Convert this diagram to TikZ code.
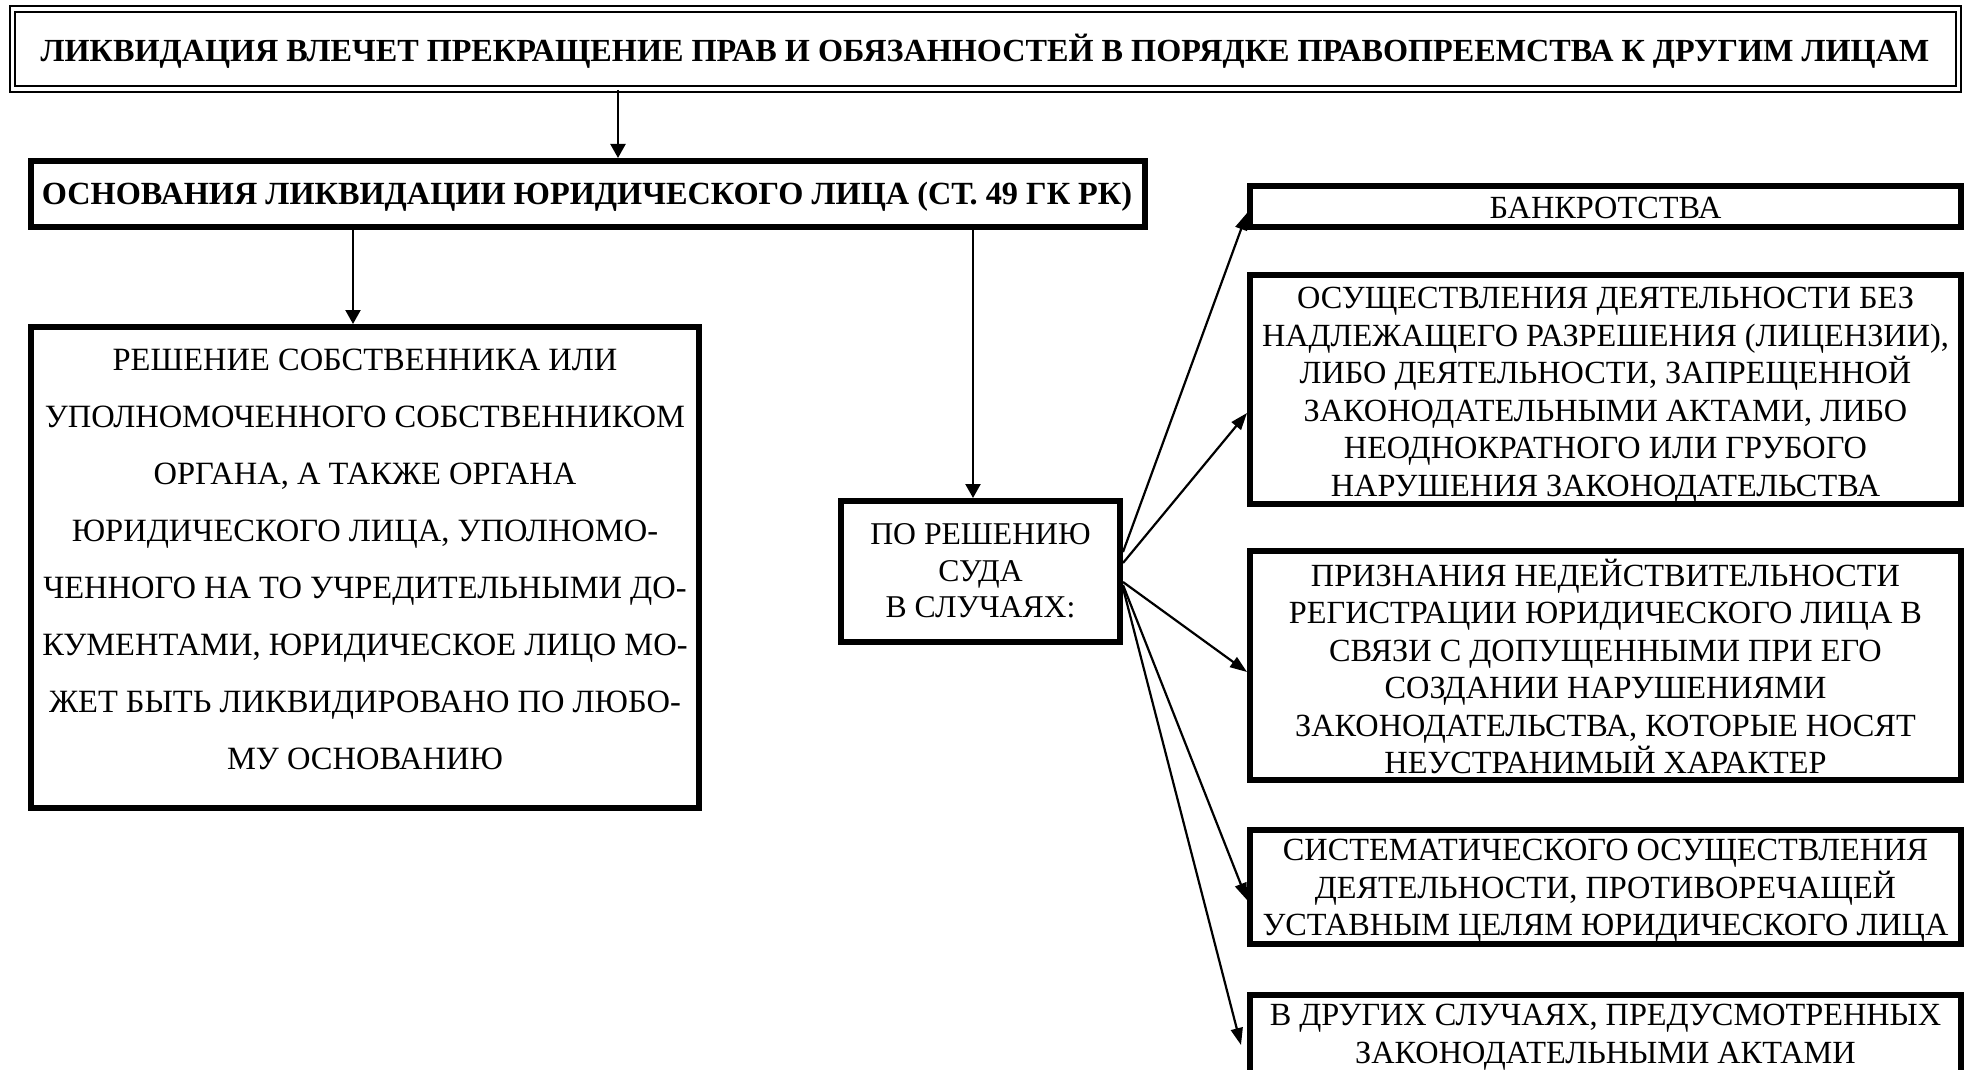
\documentclass[tikz,border=0pt]{standalone}
\usepackage{fontspec}
\setmainfont{Liberation Serif}
\usetikzlibrary{arrows.meta,calc}
\tikzset{
  box/.style={draw=black, line width=6pt, rectangle, inner sep=0pt, fill=none},
  dbox/.style={draw=black, line width=2pt, double=white, double distance=3.5pt, rectangle, inner sep=0pt},
  txt/.style={align=center, inner sep=0pt, text=black},
  rtxt/.style={txt, font=\fontsize{32.3}{37.5}\selectfont},
  varr/.style={line width=2.2pt, -{Triangle[length=14pt,width=15pt]}},
  farr/.style={line width=2.2pt, -{Triangle[length=17pt,width=12pt]}}
}
\begin{document}
\begin{tikzpicture}[x=1pt,y=-1pt]
\useasboundingbox (0,0) rectangle (1968,1070);
\fill[white] (0,0) rectangle (1968,1070);
% boxes
\node[dbox, minimum width=1946pt, minimum height=80pt] (top) at (985.5,49) {};
\node[box, minimum width=1114pt, minimum height=66pt] (b2) at (588,194) {};
\node[box, minimum width=668pt, minimum height=481pt] (b3) at (365,567.5) {};
\node[box, minimum width=279pt, minimum height=141pt] (b4) at (980.5,571.5) {};
\node[box, minimum width=711pt, minimum height=41pt] (r1) at (1605.5,206.5) {};
\node[box, minimum width=711pt, minimum height=229pt] (r2) at (1605.5,389.5) {};
\node[box, minimum width=711pt, minimum height=229pt] (r3) at (1605.5,665.5) {};
\node[box, minimum width=711pt, minimum height=114pt] (r4) at (1605.5,887) {};
\node[box, minimum width=711pt, minimum height=105pt] (r5) at (1605.5,1047.5) {};
% texts
\node[txt, font=\fontsize{32.2}{40}\selectfont\bfseries] (ttop) at (985,51) {ЛИКВИДАЦИЯ ВЛЕЧЕТ ПРЕКРАЩЕНИЕ ПРАВ И ОБЯЗАННОСТЕЙ В ПОРЯДКЕ ПРАВОПРЕЕМСТВА К ДРУГИМ ЛИЦАМ};
\node[txt, font=\fontsize{32.3}{38}\selectfont\bfseries] (tb2) at (587,197) {ОСНОВАНИЯ ЛИКВИДАЦИИ ЮРИДИЧЕСКОГО ЛИЦА (СТ. 49 ГК РК)};
\node[txt, font=\fontsize{32.5}{57}\selectfont] (tb3) at (365,559) {РЕШЕНИЕ СОБСТВЕННИКА ИЛИ\\УПОЛНОМОЧЕННОГО СОБСТВЕННИКОМ\\ОРГАНА, А ТАКЖЕ ОРГАНА\\ЮРИДИЧЕСКОГО ЛИЦА, УПОЛНОМО-\\ЧЕННОГО НА ТО УЧРЕДИТЕЛЬНЫМИ ДО-\\КУМЕНТАМИ, ЮРИДИЧЕСКОЕ ЛИЦО МО-\\ЖЕТ БЫТЬ ЛИКВИДИРОВАНО ПО ЛЮБО-\\МУ ОСНОВАНИЮ};
\node[txt, font=\fontsize{31.7}{36.7}\selectfont] (tb4) at (980.5,571) {ПО РЕШЕНИЮ\\СУДА\\В СЛУЧАЯХ:};
\node[rtxt] (tr1) at (1605.5,208) {БАНКРОТСТВА};
\node[rtxt] (tr2) at (1605.5,395) {ОСУЩЕСТВЛЕНИЯ ДЕЯТЕЛЬНОСТИ БЕЗ\\НАДЛЕЖАЩЕГО РАЗРЕШЕНИЯ (ЛИЦЕНЗИИ),\\ЛИБО ДЕЯТЕЛЬНОСТИ, ЗАПРЕЩЕННОЙ\\ЗАКОНОДАТЕЛЬНЫМИ АКТАМИ, ЛИБО\\НЕОДНОКРАТНОГО ИЛИ ГРУБОГО\\НАРУШЕНИЯ ЗАКОНОДАТЕЛЬСТВА};
\node[rtxt] (tr3) at (1605.5,666.5) {ПРИЗНАНИЯ НЕДЕЙСТВИТЕЛЬНОСТИ\\РЕГИСТРАЦИИ ЮРИДИЧЕСКОГО ЛИЦА В\\СВЯЗИ С ДОПУЩЕННЫМИ ПРИ ЕГО\\СОЗДАНИИ НАРУШЕНИЯМИ\\ЗАКОНОДАТЕЛЬСТВА, КОТОРЫЕ НОСЯТ\\НЕУСТРАНИМЫЙ ХАРАКТЕР};
\node[rtxt] (tr4) at (1605.5,891) {СИСТЕМАТИЧЕСКОГО ОСУЩЕСТВЛЕНИЯ\\ДЕЯТЕЛЬНОСТИ, ПРОТИВОРЕЧАЩЕЙ\\УСТАВНЫМ ЦЕЛЯМ ЮРИДИЧЕСКОГО ЛИЦА};
\node[rtxt] (tr5) at (1605.5,1037) {В ДРУГИХ СЛУЧАЯХ, ПРЕДУСМОТРЕННЫХ\\ЗАКОНОДАТЕЛЬНЫМИ АКТАМИ};
% vertical arrows
\draw[varr] (top.south -| 618,0) -- (b2.north -| 618,0);
\draw[varr] (b2.south -| 353,0) -- (b3.north -| 353,0);
\draw[varr] (b2.south -| 973,0) -- (b4.north -| 973,0);
% fan arrows
\draw[farr] ([yshift=19.5pt]b4.east) -- ([yshift=-6.5pt]r1.west);
\draw[farr] ([yshift=8.5pt]b4.east) -- ([yshift=-23.5pt]r2.west);
\draw[farr] ([yshift=-10.5pt]b4.east) -- ([yshift=-6.5pt]r3.west);
\draw[farr] ([yshift=-13.5pt]b4.east) -- ([yshift=-13pt]r4.west);
\draw[farr] ([yshift=-16.5pt]b4.east) -- ([xshift=-6pt,yshift=2.5pt]r5.west);
\end{tikzpicture}
\end{document}
